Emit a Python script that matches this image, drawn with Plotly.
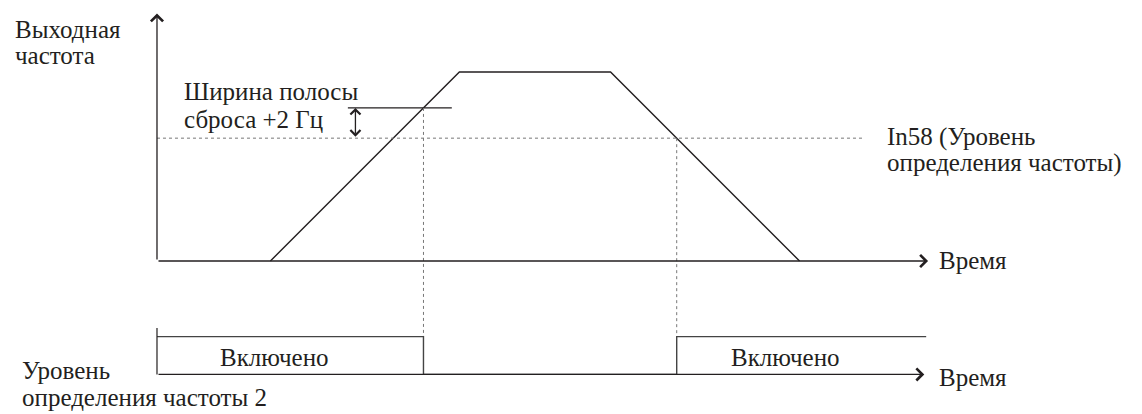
import plotly.graph_objects as go

# time in arbitrary units, frequency in % of max
ramp_t = [6, 16, 24, 34]
ramp_f = [0, 100, 100, 0]

detect_level = 65          # In58
band_level = 81            # In58 + reset band
band_line_t = [10.1, 15.6]
band_arrow_t = 10.5

on_off_t = [0, 14.1, 14.1, 27.5, 27.5, 40.7]
on_off_state = [1, 1, 0, 0, 1, 1]
sig_low, sig_high = -60, -40
sig_tick_top = -35.4

cross_t = [14.1, 27.5]
cross_f = [band_level, detect_level]

axis_t_end = 40.8
axis_f_end = 131
detect_line_end = 37.4

# text lines: (t, f, text, anchor)
labels = [
    (-7.62, 122.7, "Выходная", "left"),
    (-7.62, 109.0, "частота", "left"),
    (1.32, 89.9, "Ширина полосы", "left"),
    (1.32, 75.1, "сброса +2 Гц", "left"),
    (38.52, 65.6, "In58 (Уровень", "left"),
    (38.52, 51.9, "определения частоты)", "left"),
    (41.27, 0.5, "Время", "left"),
    (41.27, -61.4, "Время", "left"),
    (6.22, -50.8, "Включено", "center"),
    (33.23, -50.8, "Включено", "center"),
    (-7.25, -57.7, "Уровень", "left"),
    (-7.25, -72.0, "определения частоты 2", "left"),
]

INK = "#231f20"
FONT = dict(family="Liberation Serif", size=25, color=INK)

fig = go.Figure()

# output frequency trapezoid
fig.add_trace(go.Scatter(x=ramp_t, y=ramp_f, mode="lines",
                         line=dict(color=INK, width=1.4)))

# detection level (dotted)
fig.add_trace(go.Scatter(x=[0, detect_line_end], y=[detect_level, detect_level], mode="lines",
                         line=dict(color="#777", width=1, dash="dot")))

# reset band line
fig.add_trace(go.Scatter(x=band_line_t, y=[band_level, band_level], mode="lines",
                         line=dict(color=INK, width=1.2)))

# dotted verticals from crossings down to the lower signal
for t, f in zip(cross_t, cross_f):
    fig.add_trace(go.Scatter(x=[t, t], y=[f, sig_high], mode="lines",
                             line=dict(color="#777", width=1, dash="dot")))

# lower signal
sig_f = [sig_low + s * (sig_high - sig_low) for s in on_off_state]
fig.add_trace(go.Scatter(x=on_off_t, y=sig_f, mode="lines",
                         line=dict(color="#444", width=1.4)))
fig.add_trace(go.Scatter(x=[0, 0], y=[sig_low, sig_tick_top], mode="lines",
                         line=dict(color=INK, width=1.2)))


def arrow(x, y, ax, ay, both=False, size=1.8):
    fig.add_annotation(x=x, y=y, ax=ax, ay=ay, xref="x", yref="y", axref="x", ayref="y",
                       text="", showarrow=True, arrowhead=4, startarrowhead=4,
                       arrowside="end+start" if both else "end",
                       arrowsize=size, startarrowsize=size, arrowwidth=1.3,
                       arrowcolor=INK, standoff=0, startstandoff=0)


arrow(0, axis_f_end, 0, 0)                     # frequency axis
arrow(axis_t_end, 0, 0, 0)                     # time axis
arrow(axis_t_end - 0.2, sig_low, 0, sig_low)   # lower time axis
arrow(band_arrow_t, band_level, band_arrow_t, detect_level, both=True, size=1.5)

for t, f, text, anchor in labels:
    fig.add_annotation(x=t, y=f, xref="x", yref="y", text=text, showarrow=False,
                       xanchor=anchor, yanchor="middle", font=FONT)

fig.update_layout(
    width=1142, height=414, margin=dict(l=0, r=0, t=0, b=0),
    showlegend=False, plot_bgcolor="white", paper_bgcolor="white",
    xaxis=dict(range=[-8.307, 52.12], visible=False),
    yaxis=dict(range=[-80.95, 138.1], visible=False),
)

fig.write_html("out.html", config={"displayModeBar": False},
               post_script="document.body.style.margin='0';")
